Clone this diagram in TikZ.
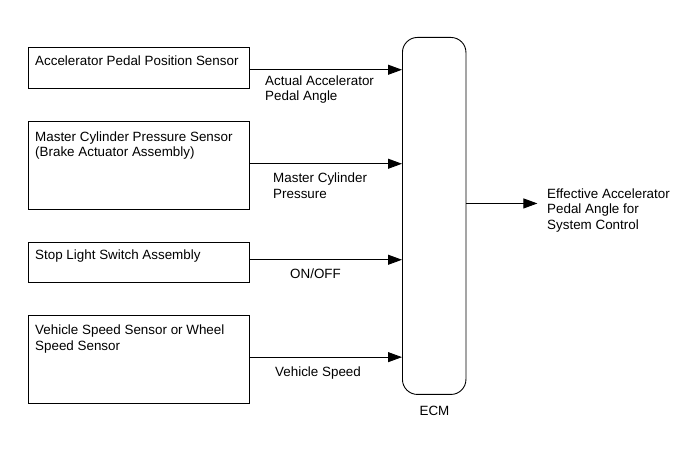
\documentclass[tikz,border=0pt]{standalone}
\usepackage{fontspec}
\setmainfont{Liberation Sans}
\usetikzlibrary{arrows.meta}
\begin{document}
\begin{tikzpicture}[x=1pt,y=-1pt,
  box/.style={draw, line width=0.9pt, minimum width=221pt, anchor=north west, inner sep=0pt},
  txt/.style={anchor=north west, inner sep=0pt, align=left, font=\fontsize{13.4pt}{15.5pt}\selectfont},
  conn/.style={draw, line width=0.9pt, -{Triangle[length=14pt,width=10pt]}}]
\useasboundingbox (0,0) rectangle (689,465);
% source boxes
\node[box, minimum height=41pt] (b1) at (28,47) {};
\node[box, minimum height=88pt] (b2) at (28,121) {};
\node[box, minimum height=40pt] (b3) at (28,242) {};
\node[box, minimum height=88pt] (b4) at (28,315) {};
\node[txt] (t1) at (35,55.5) {Accelerator Pedal Position Sensor};
\node[txt] (t2) at (35,131.5) {Master Cylinder Pressure Sensor\\(Brake Actuator Assembly)};
\node[txt] (t3) at (35,249.5) {Stop Light Switch Assembly};
\node[txt] (t4) at (35,325) {Vehicle Speed Sensor or Wheel\\Speed Sensor};
% ECM
\node[draw, line width=0.9pt, rounded corners=15pt, minimum width=63.5pt, minimum height=357pt, anchor=north west, inner sep=0pt] (ecm) at (402,37) {};
\node[txt, anchor=north] (ecml) at (434.5,405.5) {ECM};
% connectors
\coordinate (p1) at ([yshift=-1.8pt]b1.east);
\coordinate (p2) at ([yshift=1.7pt]b2.east);
\coordinate (p3) at ([yshift=2.7pt]b3.east);
\coordinate (p4) at ([yshift=2.3pt]b4.east);
\draw[conn] (p1) -- (p1 -| ecm.west);
\draw[conn] (p2) -- (p2 -| ecm.west);
\draw[conn] (p3) -- (p3 -| ecm.west);
\draw[conn] (p4) -- (p4 -| ecm.west);
\coordinate (o0) at ([yshift=12.5pt]ecm.east);
\coordinate (o1) at ([xshift=71pt]o0);
\draw[conn] (o0) -- (o1);
% labels
\node[txt] (l1) at (265,75.5) {Actual Accelerator\\Pedal Angle};
\node[txt] (l2) at (273,173) {Master Cylinder\\Pressure};
\node[txt] (l3) at (290,268.5) {ON/OFF};
\node[txt] (l4) at (275,366.5) {Vehicle Speed};
\node[txt] (lo) at (547,188.5) {Effective Accelerator\\Pedal Angle for\\System Control};
\end{tikzpicture}
\end{document}
